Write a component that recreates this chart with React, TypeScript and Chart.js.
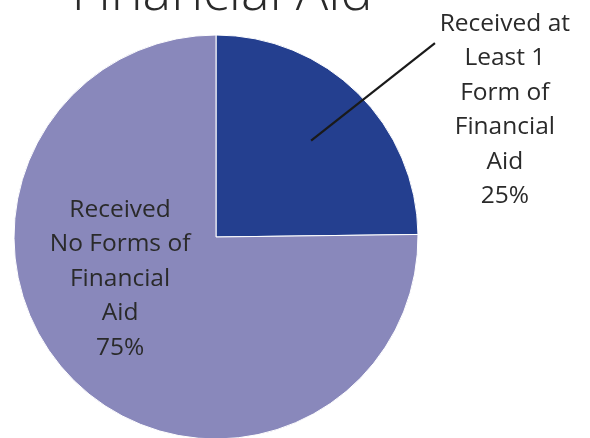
import React, { useEffect, useRef } from "react";
import { Chart, registerables } from "chart.js";

Chart.register(...registerables);

const TITLE = "Financial Aid";
const categories = ["Received at Least 1 Form of Financial Aid", "Received No Forms of Financial Aid"];
const values = [24.8, 75.2];
const percentLabels = ["25%", "75%"];
const labelLines = [
  ["Received at", "Least 1", "Form of", "Financial", "Aid"],
  ["Received", "No Forms of", "Financial", "Aid"],
];
const colors = ["#243F8F", "#8988BB"];

const OFFSET_TOP = 60;
const CANVAS_W = 590;
const CANVAS_H = 520;
const TITLE_FONT = "'Open Sans', sans-serif";
const LABEL_FONT = "'Open Sans', sans-serif";
const TEXT_COLOR = "#2a2a2a";

const labelPlugin = {
  id: "customLabels",
  afterDraw(chart: any) {
    const ctx = chart.ctx;
    const meta = chart.getDatasetMeta(0);
    const arc0 = meta.data[0];
    if (!arc0) return;
    const cx = arc0.x;
    const cy = arc0.y;
    const r = arc0.outerRadius;
    ctx.save();
    // Title
    ctx.fillStyle = TEXT_COLOR;
    ctx.font = `300 54px ${TITLE_FONT}`;
    ctx.textAlign = "center";
    ctx.textBaseline = "alphabetic";
    ctx.fillText(TITLE, cx + 6, OFFSET_TOP + 10);

    // leader line for slice 0
    const mid = (arc0.startAngle + arc0.endAngle) / 2;
    const sx = cx + Math.cos(mid) * 0.67 * r;
    const sy = cy + Math.sin(mid) * 0.67 * r;
    ctx.strokeStyle = "#1a1a1a";
    ctx.lineWidth = 2.2;
    ctx.beginPath();
    ctx.moveTo(sx, sy);
    ctx.lineTo(cx + 1.084 * r, cy - 0.96 * r);
    ctx.stroke();

    ctx.font = `400 24.5px ${LABEL_FONT}`;
    const lh = 34.4;
    // Outer label slice 0
    const lines0 = [...labelLines[0], percentLabels[0]];
    const ox = cx + 1.43 * r;
    const oy = cy - 1.02 * r;
    lines0.forEach((t, i) => ctx.fillText(t, ox, oy + i * lh));
    // Inner label slice 1
    const lines1 = [...labelLines[1], percentLabels[1]];
    const ix = cx - 0.475 * r;
    const iy = cy - 0.099 * r;
    lines1.forEach((t, i) => ctx.fillText(t, ix, iy + i * lh));
    ctx.restore();
  },
};

export default function App() {
  const ref = useRef<HTMLCanvasElement>(null);
  useEffect(() => {
    if (!ref.current) return;
    document.body.style.overflow = "hidden";
    const chart = new Chart(ref.current, {
      type: "pie",
      data: {
        labels: categories,
        datasets: [
          {
            data: values,
            backgroundColor: colors,
            borderColor: "#ffffff",
            borderWidth: 1,
          },
        ],
      },
      options: {
        animation: false,
        responsive: false,
        maintainAspectRatio: false,
        layout: {
          padding: { left: 13.5, right: 171.5, top: 94.5, bottom: 20.5 },
        },
        plugins: {
          legend: { display: false },
          tooltip: { enabled: false },
          title: { display: false },
        },
      },
      plugins: [labelPlugin],
    });
    return () => chart.destroy();
  }, []);
  return (
    <div style={{ position: "absolute", left: 0, top: -OFFSET_TOP, width: CANVAS_W, height: CANVAS_H }}>
      <canvas ref={ref} width={CANVAS_W} height={CANVAS_H} style={{ width: CANVAS_W, height: CANVAS_H, display: "block" }} />
    </div>
  );
}
